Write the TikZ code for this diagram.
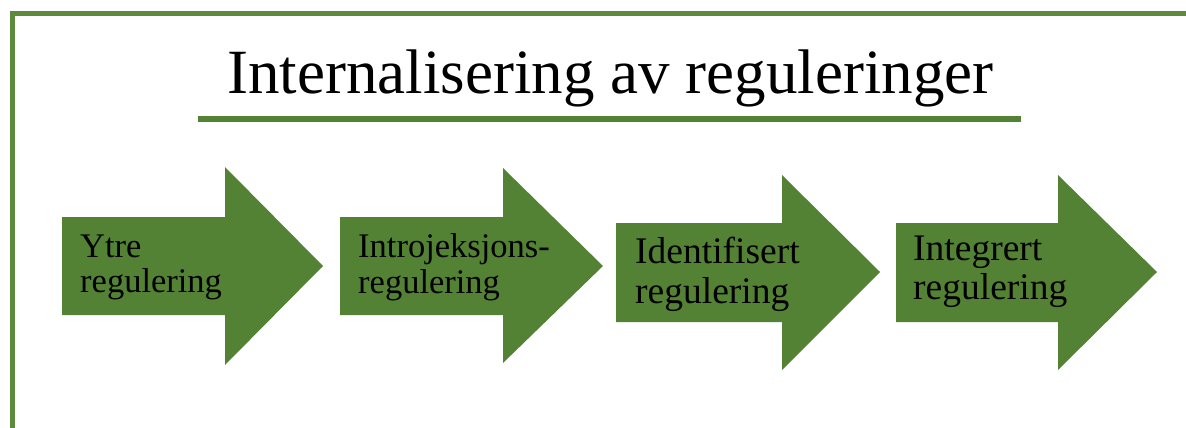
\documentclass[tikz,border=0pt]{standalone}
\usepackage{fontspec}
\setmainfont{Liberation Serif}
\definecolor{leafgreen}{RGB}{84,130,53}
\definecolor{framegreen}{RGB}{94,138,62}
\tikzset{
  flowarrow/.style={fill=leafgreen},
  arrowtext/.style={anchor=base west, inner sep=0pt, text=black},
  smalltxt/.style={font=\fontsize{34.5}{34.5}\selectfont},
  largetxt/.style={font=\fontsize{37.5}{37.5}\selectfont},
}
\begin{document}
\begin{tikzpicture}[x=1pt,y=-1pt]
  \useasboundingbox (0,0) rectangle (1186,428);
  % frame along the top and the left edge
  \draw[framegreen, line width=5pt] (12,428) -- (12,14) -- (1186,14);
  % title and its rule
  \node[anchor=base, inner sep=0pt, font=\fontsize{63}{63}\selectfont] (title) at (610.5,93) {Internalisering av reguleringer};
  \coordinate (ruleL) at (198,119);
  \coordinate (ruleR) at (1021,119);
  \draw[leafgreen, line width=6pt] (ruleL) -- (ruleR);
  % the four block arrows
  \fill[flowarrow] (62,217) -- (225,217) -- (225,167) -- (323,266) -- (225,365) -- (225,315) -- (62,315) -- cycle;
  \fill[flowarrow] (340,217) -- (503,217) -- (503,168) -- (603,266) -- (503,363) -- (503,315) -- (340,315) -- cycle;
  \fill[flowarrow] (616,223) -- (782,223) -- (782,175) -- (880,272) -- (782,370) -- (782,322) -- (616,322) -- cycle;
  \fill[flowarrow] (896,223) -- (1058,223) -- (1058,175) -- (1157,272) -- (1058,370) -- (1058,322) -- (896,322) -- cycle;
  % labels
  \node[arrowtext, smalltxt] (a1) at (80,257) {Ytre};
  \node[arrowtext, smalltxt] (a1b) at (80,292) {regulering};
  \node[arrowtext, smalltxt] (a2) at (358,257) {Introjeksjons-};
  \node[arrowtext, smalltxt] (a2b) at (358,293) {regulering};
  \node[arrowtext, largetxt] (a3) at (635,263) {Identifisert};
  \node[arrowtext, largetxt] (a3b) at (635,303) {regulering};
  \node[arrowtext, largetxt] (a4) at (913,260) {Integrert};
  \node[arrowtext, largetxt] (a4b) at (913,299) {regulering};
\end{tikzpicture}
\end{document}
